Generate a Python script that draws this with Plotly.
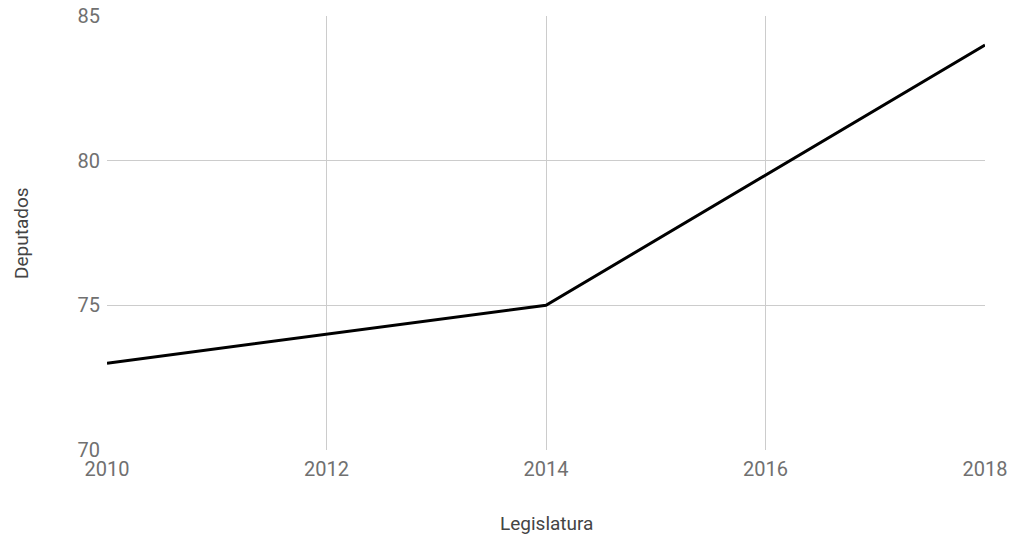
import plotly.graph_objects as go

years = [2010, 2014, 2018]
deputados = [73, 75, 84]
x_ticks = [2010, 2012, 2014, 2016, 2018]
y_ticks = [70, 75, 80, 85]
x_title = "Legislatura"
y_title = "Deputados"

fig = go.Figure(go.Scatter(x=years, y=deputados, mode="lines",
                           line=dict(color="#000000", width=3)))

fig.update_layout(
    width=1011, height=535,
    margin=dict(l=107, r=26, t=16, b=85),
    paper_bgcolor="white", plot_bgcolor="white",
    font=dict(family="Roboto", size=20, color="#707070"),
    showlegend=False,
    annotations=[
        dict(text=x_title, xref="paper", yref="paper", x=0.5, y=0,
             xanchor="center", yanchor="middle", yshift=-73, showarrow=False,
             font=dict(family="Roboto", size=19, color="#444444")),
        dict(text=y_title, xref="paper", yref="paper", x=0, y=0.5,
             xanchor="center", yanchor="middle", xshift=-86, textangle=-90,
             showarrow=False,
             font=dict(family="Roboto", size=19, color="#444444")),
    ],
)
fig.update_xaxes(range=[2010, 2018], tickvals=x_ticks, showgrid=True,
                 gridcolor="#cccccc", gridwidth=1, zeroline=False,
                 showline=False, ticks="", ticklabelstandoff=5, automargin=False)
fig.update_yaxes(range=[70, 85], tickvals=y_ticks, showgrid=True,
                 gridcolor="#cccccc", gridwidth=1, zeroline=False,
                 showline=False, ticks="", ticklabelstandoff=6, automargin=False)

fig.write_html("out.html")
